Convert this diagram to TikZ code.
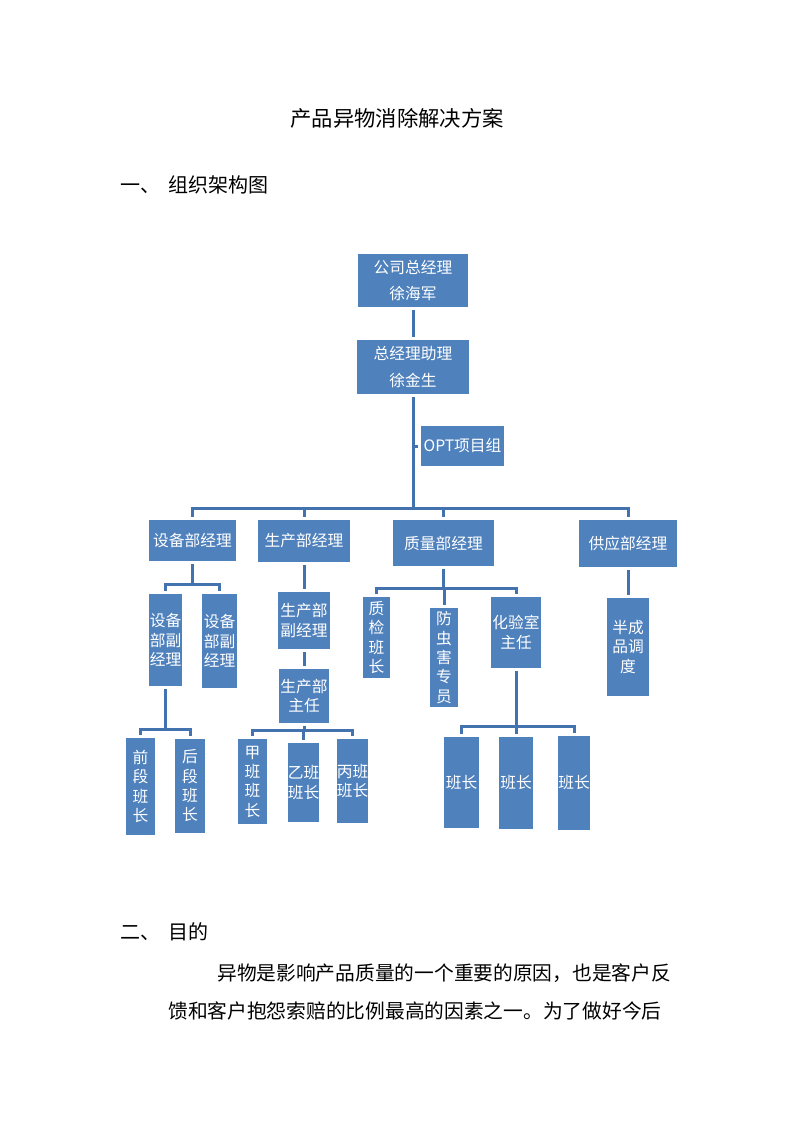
\documentclass[tikz,border=0pt]{standalone}
\usepackage{fontspec}
\newfontfamily\cjk{Noto Sans CJK SC}
\usepackage{tikz}
\usetikzlibrary{positioning}

\definecolor{boxblue}{HTML}{4F81BD}
\definecolor{lineblue}{HTML}{4373AF}

\begin{document}
\begin{tikzpicture}[x=0.75pt,y=-0.75pt,on grid,
  box/.style={fill=boxblue,text=white,align=center,inner sep=0pt,
    font=\cjk\fontsize{11.8pt}{14.5pt}\selectfont},
  top/.style={box,font=\cjk\fontsize{11.8pt}{20pt}\selectfont},
  sz/.style 2 args={minimum width=#1*0.75pt,minimum height=#2*0.75pt},
  link/.style={draw=lineblue,line width=2.25pt,shorten >=2.25pt,shorten <=2.25pt},
  head/.style={font=\cjk\fontsize{15pt}{18pt}\selectfont,anchor=west,inner sep=0pt},
  body/.style={font=\cjk\fontsize{14.8pt}{18pt}\selectfont,anchor=west,inner sep=0pt}]
   \fill[white] (0,0) rectangle (793,1122);
   \useasboundingbox (0,0) rectangle (793,1122);

   \node[font=\cjk\fontsize{16pt}{19pt}\selectfont,inner sep=0pt] (title) at (397,118) {产品异物消除解决方案};
   \node[head] (h1) at (120,185) {一、\hspace{6.5pt}组织架构图};

   % top of the chart
   \node[top,sz={110}{53}] (zjl) at (413,280.5) {公司总经理\\徐海军};
   \node[top,sz={112}{54},below=64.9pt of zjl] (zlzl) {总经理助理\\徐金生};
   \node[box,sz={83}{40}] (opt) at (462.5,446) {OPT项目组};

   % departments
   \node[box,sz={87}{41}] (sbjl) at (192.5,540.5) {设备部经理};
   \node[box,sz={92}{42}] (scjl) at (304,541) {生产部经理};
   \node[box,sz={101}{46}] (zljl) at (443.5,543) {质量部经理};
   \node[box,sz={98}{47}] (gyjl) at (628,543.5) {供应部经理};

   \node[box,sz={33}{92}] (sbf1) at (165.5,640) {设备\\部副\\经理};
   \node[box,sz={35}{94}] (sbf2) at (219.5,641) {设备\\部副\\经理};
   \node[box,sz={52}{57}] (scf) at (304,620.5) {生产部\\副经理};
   \node[box,sz={50}{54},below=56.6pt of scf] (sczr) {生产部\\主任};
   \node[box,sz={27}{81}] (zjbz) at (376.5,637.5) {质\\检\\班\\长};
   \node[box,sz={28}{99}] (fch) at (444,657.5) {防\\虫\\害\\专\\员};
   \node[box,sz={50}{71}] (hys) at (516,632.5) {化验室\\主任};
   \node[box,sz={42}{98},below=77.6pt of gyjl] (bcp) {半成\\品调\\度};

   % team leaders
   \node[box,sz={29}{97}] (qd) at (140.5,786.5) {前\\段\\班\\长};
   \node[box,sz={30}{94}] (hd) at (190,786) {后\\段\\班\\长};
   \node[box,sz={29}{85}] (jb) at (252.5,781.5) {甲\\班\\班\\长};
   \node[box,sz={31}{79}] (yb) at (303.5,782.5) {乙班\\班长};
   \node[box,sz={31}{84}] (bb) at (352.5,781) {丙班\\班长};
   \node[box,sz={35}{91}] (bz1) at (461.5,782.5) {班长};
   \node[box,sz={34}{92}] (bz2) at (516,783) {班长};
   \node[box,sz={32}{94}] (bz3) at (574,783) {班长};

   \coordinate (b0) at (413,508);
   \coordinate (b1) at (192.5,584);
   \coordinate (b2) at (443.5,588);
   \coordinate (b3) at (165.5,729);
   \coordinate (b4) at (304,730);
   \coordinate (b5) at (516,726);

   \draw[link] (zjl) -- (zlzl);
   \draw[link,shorten <=0pt] (opt -| zlzl) -- (opt);
   \foreach \c in {sbjl,scjl,zljl,gyjl} \draw[link] (zlzl) -- (b0) -| (\c);
   \foreach \c in {sbf1,sbf2} \draw[link] (sbjl) -- (b1) -| (\c);
   \draw[link] (scjl) -- (scf);
   \draw[link] (scf) -- (sczr);
   \foreach \c in {zjbz,fch,hys} \draw[link] (zljl) -- (b2) -| (\c);
   \draw[link] (gyjl) -- (bcp);
   \foreach \c in {qd,hd} \draw[link] (sbf1) -- (b3) -| (\c);
   \foreach \c in {jb,yb,bb} \draw[link] (sczr) -- (b4) -| (\c);
   \foreach \c in {bz1,bz2,bz3} \draw[link] (hys) -- (b5) -| (\c);

   \node[head] (h2) at (120,932) {二、\hspace{6.5pt}目的};
   \node[body] (p1) at (217,973) {异物是影响产品质量的一个重要的原因，也是客户反};
   \node[body] (p2) at (168,1011) {馈和客户抱怨索赔的比例最高的因素之一。为了做好今后};
\end{tikzpicture}
\end{document}
